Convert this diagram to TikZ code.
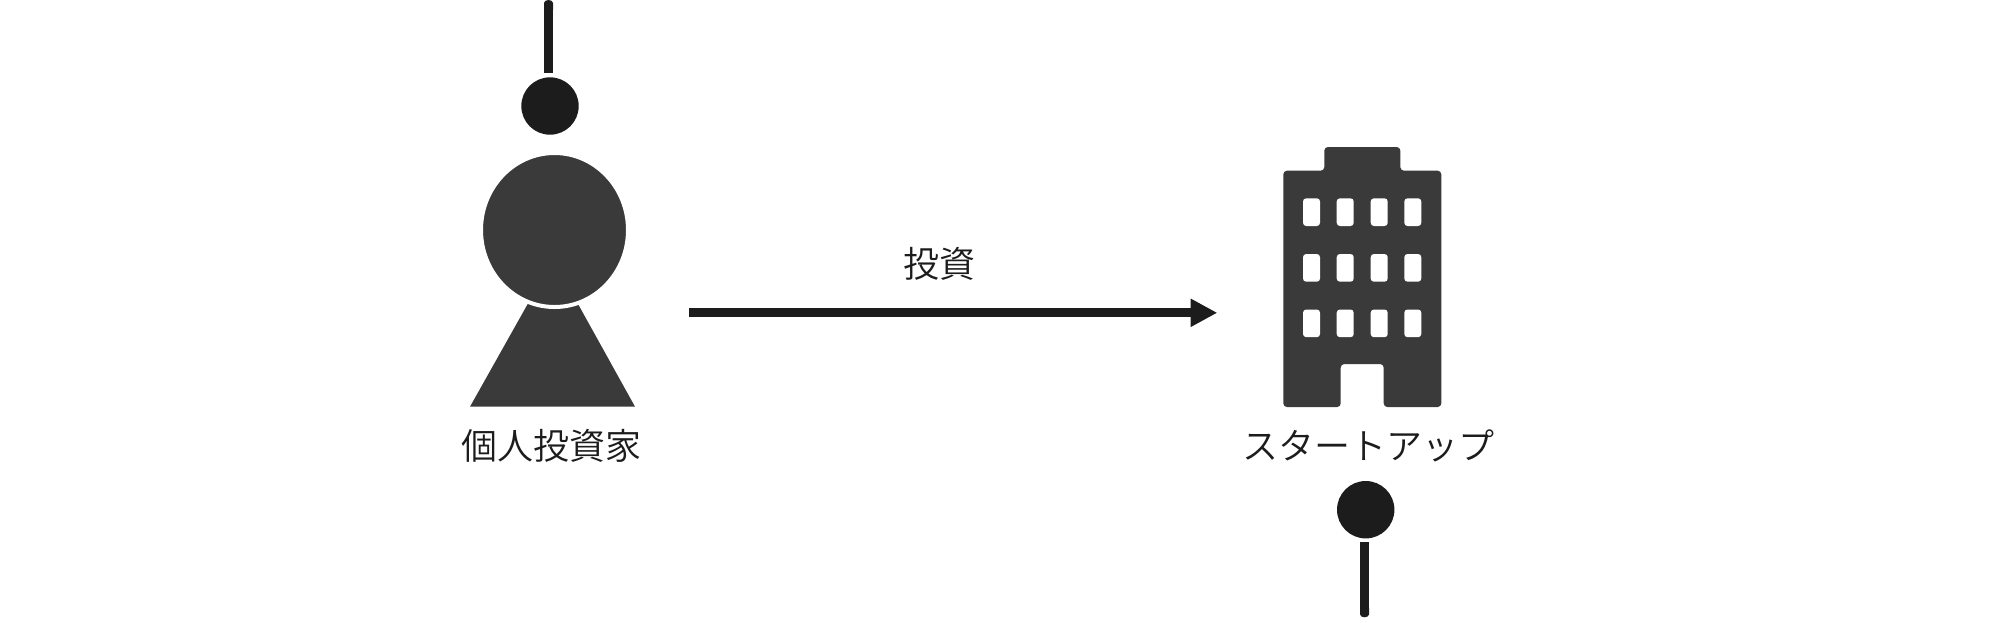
\documentclass[tikz,border=0pt]{standalone}
\usepackage{fontspec}
\setmainfont{Noto Sans CJK JP DemiLight}
\usetikzlibrary{arrows.meta,shapes.geometric}
\definecolor{inkdark}{HTML}{1C1C1C}
\definecolor{bodygrey}{HTML}{3A3A3A}
\tikzset{
  pinball/.style={circle,fill=inkdark,minimum size=28.7pt,inner sep=0pt,outer sep=2pt},
  pinbar/.style={draw=inkdark,line width=4.5pt},
  flow/.style={draw=inkdark,line width=4.5pt,-{Triangle[length=13.3pt,width=13.2pt]}},
  heads/.style={ellipse,fill=bodygrey,draw=white,line width=2pt,minimum width=73.5pt,minimum height=77pt,inner sep=0pt},
  label/.style={text=inkdark,font=\fontsize{18}{20}\selectfont,inner sep=0pt},
  win/.style={fill=white,rounded corners=1.6pt}
}
\begin{document}
\begin{tikzpicture}[x=0.5pt,y=-0.5pt]
\useasboundingbox (0,0) rectangle (2000,622);
% top pin
\node[pinball] (ballA) at (550,106) {};
\coordinate (barAend) at (548.5,0);
\draw[pinbar,{Round Cap[length=1.5pt]}-] (barAend) -- (barAend |- ballA.north);
% investor
\fill[bodygrey] (527.7,304) -- (470,406.7) -- (635,406.7) -- (578,304) -- cycle;
\node[heads] (head) at (554.5,230) {};
\node[label] (investor) at (551.5,446) {個人投資家};
% arrow
\coordinate (flowStart) at (689,312.8);
\coordinate (flowEnd) at (1217.3,312.8);
\draw[flow] (flowStart) -- (flowEnd);
\node[label] (flowLabel) at (939.5,263.5) {投資};
% building
\fill[bodygrey,rounded corners=1.8pt] (1283.3,170.7) -- (1324.3,170.7) -- (1324.3,147) -- (1400.3,147) -- (1400.3,170.7) -- (1441.3,170.7) -- (1441.3,407) -- (1383.7,407) -- (1383.7,364) -- (1340.7,364) -- (1340.7,407) -- (1283.3,407) -- cycle;
\foreach \wx in {1303,1336.7,1370.7,1404.3}
  \foreach \wy in {198.3,254,309.5}
    \fill[win] (\wx,\wy) rectangle ++(17,27.7);
\node[label] (startup) at (1368.5,446) {スタートアップ};
% bottom pin
\node[pinball] (ballB) at (1365.7,509.7) {};
\coordinate (barBend) at (1364.5,617.3);
\draw[pinbar,-{Round Cap[length=1.5pt]}] (barBend |- ballB.south) -- (barBend);
\end{tikzpicture}
\end{document}
